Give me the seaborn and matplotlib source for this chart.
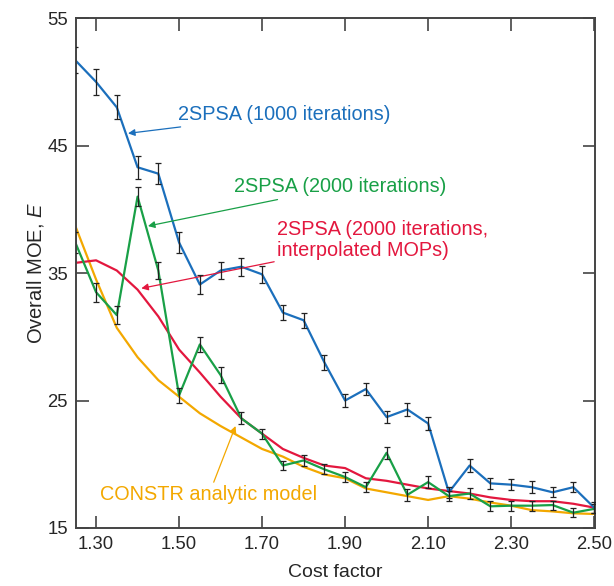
import numpy as np
import pandas as pd
import matplotlib
matplotlib.use("Agg")
import matplotlib.pyplot as plt
import seaborn as sns

# Cost factor values
cost = [1.25, 1.30, 1.35, 1.40, 1.45, 1.50, 1.55, 1.60, 1.65, 1.70, 1.75, 1.80, 1.85,
        1.90, 1.95, 2.00, 2.05, 2.10, 2.15, 2.20, 2.25, 2.30, 2.35, 2.40, 2.45, 2.50]

# 2SPSA (1000 iterations)
spsa_1000 = [51.7, 50.0, 48.0, 43.3, 42.8, 37.4, 34.1, 35.2, 35.5, 34.9, 31.9, 31.3, 28.0,
             25.0, 25.9, 23.7, 24.3, 23.2, 17.8, 19.9, 18.5, 18.4, 18.2, 17.8, 18.2, 16.6]
err_1000 = [1.0, 1.0, 0.95, 0.9, 0.85, 0.8, 0.75, 0.7, 0.7, 0.65, 0.6, 0.6, 0.6,
            0.5, 0.5, 0.5, 0.5, 0.5, 0.45, 0.5, 0.45, 0.45, 0.45, 0.4, 0.4, 0.4]

# 2SPSA (2000 iterations)
spsa_2000 = [37.4, 33.5, 31.7, 41.0, 35.2, 25.4, 29.4, 27.0, 23.6, 22.4, 19.9, 20.3, 19.6,
             19.0, 18.2, 20.9, 17.6, 18.6, 17.5, 17.7, 16.7, 16.75, 16.75, 16.8, 16.2, 16.5]
err_2000 = [0.8, 0.75, 0.7, 0.75, 0.7, 0.6, 0.6, 0.6, 0.47, 0.4, 0.35, 0.4, 0.4,
            0.4, 0.4, 0.45, 0.48, 0.45, 0.4, 0.4, 0.4, 0.4, 0.4, 0.35, 0.35, 0.35]

# 2SPSA (2000 iterations, interpolated MOPs)
spsa_interp = [35.8, 36.0, 35.2, 33.7, 31.6, 29.0, 27.2, 25.3, 23.6, 22.4, 21.2, 20.5, 19.9,
               19.7, 18.9, 18.7, 18.4, 18.1, 17.9, 17.7, 17.4, 17.2, 17.1, 17.1, 16.9, 16.6]

# CONSTR analytic model
constr = [38.7, 34.5, 30.7, 28.4, 26.6, 25.3, 24.0, 23.0, 22.1, 21.2, 20.6, 19.8, 19.2,
          18.9, 18.1, 17.8, 17.5, 17.2, 17.5, 17.3, 17.0, 16.75, 16.4, 16.3, 16.15, 16.1]

x_ticks = [1.30, 1.50, 1.70, 1.90, 2.10, 2.30, 2.50]
y_ticks = [15, 25, 35, 45, 55]

blue = "#1b6fbc"
green = "#19a047"
red = "#e3173e"
orange = "#f3a800"

sns.set_style("ticks")
plt.rcParams['font.family'] = ['Liberation Sans', 'DejaVu Sans']
plt.rcParams['mathtext.fontset'] = 'custom'
plt.rcParams['mathtext.it'] = 'Liberation Sans:italic'

df = pd.DataFrame({
    'cost': cost,
    'spsa_1000': spsa_1000,
    'spsa_2000': spsa_2000,
    'spsa_interp': spsa_interp,
    'constr': constr,
})

fig = plt.figure(figsize=(6.14, 5.86), dpi=100)
ax = fig.add_axes([0.124, 0.099, 0.845, 0.870])

lw = 1.6
sns.lineplot(data=df, x='cost', y='constr', color=orange, lw=lw, ax=ax)
sns.lineplot(data=df, x='cost', y='spsa_interp', color=red, lw=lw, ax=ax)
sns.lineplot(data=df, x='cost', y='spsa_2000', color=green, lw=lw, ax=ax)
sns.lineplot(data=df, x='cost', y='spsa_1000', color=blue, lw=lw, ax=ax)

ax.errorbar(cost, spsa_2000, yerr=err_2000, fmt='none', ecolor='#222222',
            elinewidth=0.9, capsize=2.2, capthick=0.9, zorder=5)
ax.errorbar(cost, spsa_1000, yerr=err_1000, fmt='none', ecolor='#222222',
            elinewidth=0.9, capsize=2.2, capthick=0.9, zorder=5)

ax.set_xlim(1.252, 2.502)
ax.set_ylim(15, 55)
ax.set_xticks(x_ticks)
ax.set_xticklabels([f"{v:.2f}" for v in x_ticks])
ax.set_yticks(y_ticks)
ax.tick_params(direction='in', length=9, width=1.2, color='#444444',
               top=True, right=True, labelsize=13.3, pad=6)
for s in ax.spines.values():
    s.set_visible(True)
    s.set_color('#444444')
    s.set_linewidth(1.4)

ax.set_xlabel("Cost factor", fontsize=14, labelpad=8)
ax.set_ylabel("Overall MOE, $\\mathit{E}$", fontsize=14.5, labelpad=1)

fs = 14.3
arrow = dict(arrowstyle='-|>', lw=0.9, mutation_scale=10, shrinkA=0, shrinkB=0)
ax.annotate("2SPSA (1000 iterations)", xy=(1.377, 45.96), xytext=(1.498, 47.47),
            color=blue, fontsize=fs, va='center', ha='left',
            arrowprops=dict(color=blue, **arrow))
ax.annotate("2SPSA (2000 iterations)", xy=(1.425, 38.69), xytext=(1.632, 41.77),
            color=green, fontsize=fs, va='center', ha='left',
            arrowprops=dict(color=green, **arrow))
ax.annotate("2SPSA (2000 iterations,\ninterpolated MOPs)", xy=(1.409, 33.8), xytext=(1.737, 37.6),
            color=red, fontsize=fs, va='center', ha='left', linespacing=1.15,
            arrowprops=dict(color=red, **arrow))
ax.annotate("CONSTR analytic model", xy=(1.636, 23.0), xytext=(1.31, 17.59),
            color=orange, fontsize=fs, va='center', ha='left',
            arrowprops=dict(color=orange, **arrow))

fig.savefig("out.png", dpi=100)
